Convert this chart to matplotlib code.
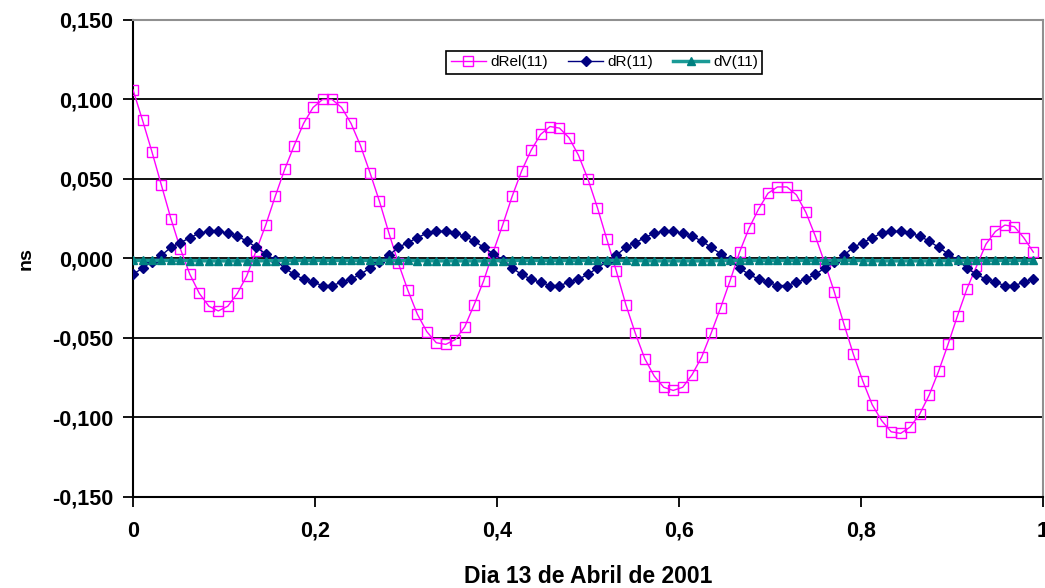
import numpy as np
import matplotlib
matplotlib.use("Agg")
import matplotlib.pyplot as plt
from matplotlib.ticker import FuncFormatter

plt.rcParams['font.family'] = ['Liberation Sans', 'DejaVu Sans']

# valores (amostras a cada 15 min do dia 13/04/2001)
d_rel = [
    0.106, 0.087, 0.067, 0.046, 0.025, 0.006, -0.010, -0.022, -0.030, -0.033,
    -0.030, -0.022, -0.011, 0.005, 0.021, 0.039, 0.056, 0.071, 0.085, 0.095,
    0.100, 0.100, 0.095, 0.085, 0.071, 0.054, 0.036, 0.016, -0.003, -0.020,
    -0.035, -0.046, -0.053, -0.054, -0.051, -0.043, -0.029, -0.014, 0.004, 0.021,
    0.039, 0.055, 0.068, 0.078, 0.083, 0.082, 0.076, 0.065, 0.050, 0.032,
    0.012, -0.008, -0.029, -0.047, -0.063, -0.074, -0.081, -0.083, -0.081, -0.073,
    -0.062, -0.047, -0.031, -0.014, 0.004, 0.019, 0.031, 0.041, 0.045, 0.045,
    0.040, 0.029, 0.014, -0.003, -0.021, -0.041, -0.060, -0.077, -0.092, -0.102,
    -0.109, -0.110, -0.106, -0.098, -0.086, -0.071, -0.054, -0.036, -0.019, -0.005,
    0.009, 0.017, 0.021, 0.020, 0.013, 0.004,
]
d_r = [
    -0.010, -0.006, -0.002, 0.002, 0.007, 0.010, 0.013, 0.016, 0.017, 0.017,
    0.016, 0.014, 0.011, 0.007, 0.003, -0.001, -0.006, -0.010, -0.013, -0.015,
    -0.017, -0.017, -0.015, -0.013, -0.010, -0.006, -0.002, 0.002, 0.007, 0.010,
    0.013, 0.016, 0.017, 0.017, 0.016, 0.014, 0.011, 0.007, 0.003, -0.001,
    -0.006, -0.010, -0.013, -0.015, -0.017, -0.017, -0.015, -0.013, -0.010, -0.006,
    -0.002, 0.002, 0.007, 0.010, 0.013, 0.016, 0.017, 0.017, 0.016, 0.014,
    0.011, 0.007, 0.003, -0.001, -0.006, -0.010, -0.013, -0.015, -0.017, -0.017,
    -0.015, -0.013, -0.010, -0.006, -0.002, 0.002, 0.007, 0.010, 0.013, 0.016,
    0.017, 0.017, 0.016, 0.014, 0.011, 0.007, 0.003, -0.001, -0.006, -0.010,
    -0.013, -0.015, -0.017, -0.017, -0.015, -0.013,
]
d_v = [
    -0.0012, -0.0012, -0.0012, -0.0012, -0.0012, -0.0012, -0.0013, -0.0014, -0.0015, -0.0015,
    -0.0015, -0.0015, -0.0015, -0.0015, -0.0014, -0.0013, -0.0012, -0.0012, -0.0012, -0.0012,
    -0.0012, -0.0012, -0.0012, -0.0012, -0.0012, -0.0012, -0.0012, -0.0012, -0.0012, -0.0012,
    -0.0013, -0.0014, -0.0015, -0.0015, -0.0015, -0.0015, -0.0015, -0.0015, -0.0014, -0.0013,
    -0.0012, -0.0012, -0.0012, -0.0012, -0.0012, -0.0012, -0.0012, -0.0012, -0.0012, -0.0012,
    -0.0012, -0.0012, -0.0012, -0.0013, -0.0014, -0.0015, -0.0015, -0.0015, -0.0015, -0.0015,
    -0.0015, -0.0014, -0.0013, -0.0012, -0.0012, -0.0012, -0.0012, -0.0012, -0.0012, -0.0012,
    -0.0012, -0.0012, -0.0012, -0.0012, -0.0012, -0.0012, -0.0012, -0.0013, -0.0014, -0.0015,
    -0.0015, -0.0015, -0.0015, -0.0015, -0.0015, -0.0014, -0.0013, -0.0012, -0.0012, -0.0012,
    -0.0012, -0.0012, -0.0012, -0.0012, -0.0012, -0.0012,
]
x_ticks = [0, 0.2, 0.4, 0.6, 0.8, 1]
y_ticks = [-0.15, -0.10, -0.05, 0.0, 0.05, 0.10, 0.15]

t = np.arange(len(d_rel)) / 96.0   # fracao do dia

fig = plt.figure(figsize=(10.45, 5.88), dpi=100)
ax = fig.add_axes([0.1273, 0.1548, 0.8706, 0.8112])

ax.plot(t, d_rel, color='#FF00FF', lw=1, marker='s', ms=6.5, mfc='none',
        mec='#FF00FF', mew=1, label='dRel(11)', zorder=3)
ax.plot(t, d_r, color='#000080', lw=1, marker='D', ms=5.5, mfc='#000080',
        mec='#000080', label='dR(11)', zorder=4)
ax.plot(t, d_v, color='#1A9A96', lw=2.5, marker='^', ms=5.5, mfc='#008080',
        mec='#008080', label='dV(11)', zorder=5)

ax.set_xlim(0, 1)
ax.set_ylim(-0.15, 0.15)
ax.set_xticks(x_ticks)
ax.set_yticks(y_ticks)
ax.xaxis.set_major_formatter(FuncFormatter(lambda v, p: ('%g' % v).replace('.', ',')))
ax.yaxis.set_major_formatter(FuncFormatter(lambda v, p: ('%.3f' % v).replace('.', ',').replace('-0,000', '0,000')))

ax.grid(axis='y', color='black', lw=1.3, zorder=1)
ax.set_axisbelow(True)
for s in ['left', 'bottom']:
    ax.spines[s].set_color('black')
    ax.spines[s].set_linewidth(1.5)
for s in ['top', 'right']:
    ax.spines[s].set_color('#909090')
    ax.spines[s].set_linewidth(1.5)

ax.tick_params(direction='out', length=7, width=1.3, labelsize=15.5, pad=7)
ax.tick_params(axis='x', pad=10)
for lab in ax.get_xticklabels() + ax.get_yticklabels():
    lab.set_fontweight('bold')

ax.set_xlabel('Dia 13 de Abril de 2001', fontsize=16.5, fontweight='bold', labelpad=17)
ax.set_ylabel('ns', fontsize=14, fontweight='bold', labelpad=13)

leg = ax.legend(loc='upper center', bbox_to_anchor=(0.518, 0.952), ncol=3,
                fontsize=11, frameon=True, fancybox=False, edgecolor='black',
                handlelength=2.3, handletextpad=0.3, columnspacing=1.3,
                borderpad=0.3, framealpha=1)
leg.get_frame().set_linewidth(1.2)

fig.savefig('out.png', dpi=100)
